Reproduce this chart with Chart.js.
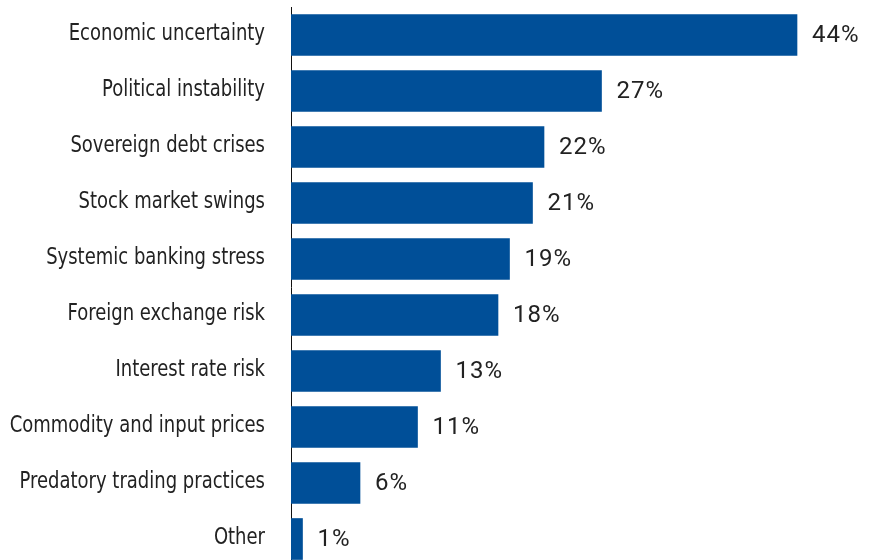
<!DOCTYPE html>
<html>
<head>
<meta charset="utf-8">
<script src="https://cdn.jsdelivr.net/npm/chart.js@4"></script>
<style>
  html, body { margin: 0; padding: 0; overflow: hidden; background: #fff; }
  .wrap { width: 877px; height: 567px; }
</style>
</head>
<body>
<div class="wrap"><canvas id="bar" width="877" height="567"></canvas></div>
<script>
const categories = [
  "Economic uncertainty",
  "Political instability",
  "Sovereign debt crises",
  "Stock market swings",
  "Systemic banking stress",
  "Foreign exchange risk",
  "Interest rate risk",
  "Commodity and input prices",
  "Predatory trading practices",
  "Other"
];
const shares = [44, 27, 22, 21, 19, 18, 13, 11, 6, 1];

const labelFont = '"Liberation Sans Narrow", "DejaVu Sans Condensed", "Roboto Condensed", sans-serif';
const valueFont = 'Roboto, "Liberation Sans", sans-serif';

// category names, squeezed a little horizontally, right-aligned against the axis
const categoryLabels = {
  id: "categoryLabels",
  afterDraw(chart) {
    const ctx = chart.ctx;
    const y = chart.scales.y;
    const right = chart.chartArea.left - 26;
    const squeeze = 0.87;
    ctx.save();
    ctx.font = "23px " + labelFont;
    ctx.fillStyle = "#222";
    ctx.textAlign = "right";
    ctx.textBaseline = "middle";
    ctx.translate(right, 0);
    ctx.scale(squeeze, 1);
    categories.forEach((name, i) => {
      ctx.fillText(name, 0, y.getPixelForTick(i) - 1);
    });
    ctx.restore();
  }
};

// writes "44%" etc. just past the end of each bar
const valueLabels = {
  id: "valueLabels",
  afterDatasetsDraw(chart) {
    const ctx = chart.ctx;
    const meta = chart.getDatasetMeta(0);
    ctx.save();
    ctx.font = "24px " + valueFont;
    ctx.letterSpacing = "1px";
    ctx.fillStyle = "#222";
    ctx.textAlign = "left";
    ctx.textBaseline = "middle";
    meta.data.forEach((bar, i) => {
      ctx.fillText(shares[i] + "%", bar.x + 15, bar.y + 1);
    });
    ctx.restore();
  }
};

new Chart(document.getElementById("bar"), {
  type: "bar",
  data: {
    labels: categories,
    datasets: [{
      data: shares,
      backgroundColor: "#004F98",
      barThickness: 41
    }]
  },
  options: {
    indexAxis: "y",
    responsive: false,
    animation: false,
    layout: { padding: { top: 7, right: 11, bottom: 0, left: 0 } },
    plugins: { legend: { display: false }, tooltip: { enabled: false } },
    scales: {
      x: {
        display: false,
        min: 0,
        max: 50
      },
      y: {
        afterFit(scale) {
          scale.width = 291;
          scale.paddingTop = 0;
          scale.paddingBottom = 0;
        },
        grid: { display: false, drawTicks: false },
        border: { display: true, color: "#111", width: 1 },
        ticks: { display: false }
      }
    }
  },
  plugins: [valueLabels, categoryLabels]
});
</script>
</body>
</html>
